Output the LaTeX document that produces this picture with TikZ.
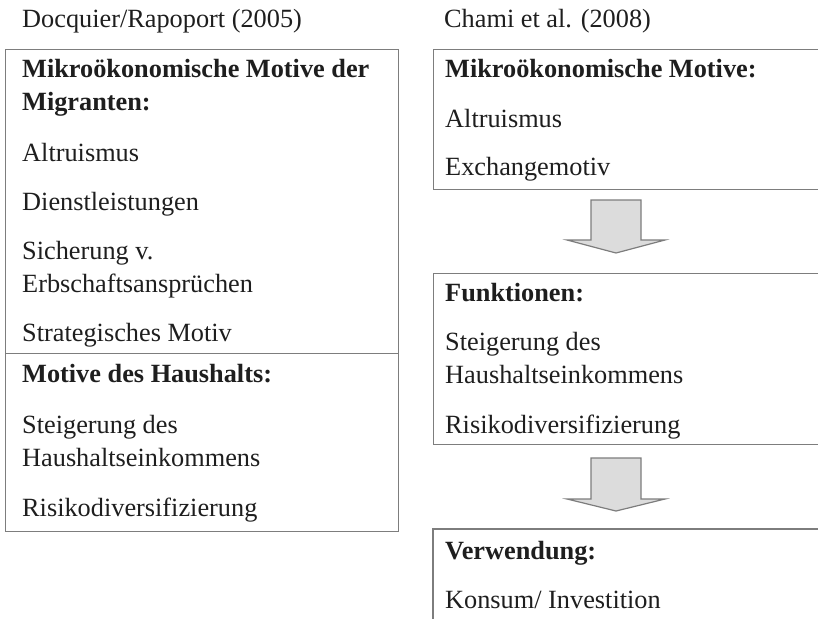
\documentclass[tikz,border=0pt]{standalone}
\usepackage{fontspec}
\setmainfont{Liberation Serif}
\usepackage{tikz}
\definecolor{framegray}{RGB}{125,125,125}
\definecolor{arrowfill}{RGB}{220,220,220}
\definecolor{inkgray}{RGB}{30,30,30}
\tikzset{
  cell/.style={draw=framegray, line width=1.4pt, inner sep=0pt, anchor=north west},
  txt/.style={anchor=base west, inner sep=0pt, text=inkgray, font=\fontsize{26.3}{33}\selectfont},
  headtxt/.style={txt, font=\fontsize{26.3}{33}\selectfont\bfseries},
  blockarrow/.style={draw=framegray, fill=arrowfill, line width=1.2pt, line join=miter}
}
\begin{document}
\begin{tikzpicture}[x=1pt,y=-1pt]
        \useasboundingbox (0,0) rectangle (818,618);
        \clip (0,0) rectangle (818,618);

        % Sources
        \node[txt] (srcleft) at (22,28) {Docquier/Rapoport (2005)};
        \node[txt] (srcright) at (444,28) {Chami et al. (2008)};

        % Left table
        \node[cell, minimum width=393pt, minimum height=304pt] (migbox) at (5,49) {};
        \node[cell, minimum width=393pt, minimum height=178pt] (hhbox) at (5,353) {};
        \node[headtxt] (migA) at (22,77) {Mikroökonomische Motive der};
        \node[headtxt] (migB) at (22,110) {Migranten:};
        \node[txt] (altleft) at (22,161) {Altruismus};
        \node[txt] (dienst) at (22,210) {Dienstleistungen};
        \node[txt] (erbA) at (22,259) {Sicherung v.};
        \node[txt] (erbB) at (22,292) {Erbschaftsansprüchen};
        \node[txt] (strat) at (22,341) {Strategisches Motiv};
        \node[headtxt] (hhhead) at (22,382) {Motive des Haushalts:};
        \node[txt] (steigleftA) at (22,433) {Steigerung des};
        \node[txt] (steigleftB) at (22,466) {Haushaltseinkommens};
        \node[txt] (riskleft) at (22,516) {Risikodiversifizierung};

        % Right column
        \node[cell, minimum width=400pt, minimum height=140pt] (motbox) at (433,49) {};
        \node[headtxt] (mothead) at (445,77) {Mikroökonomische Motive:};
        \node[txt] (altright) at (445,127) {Altruismus};
        \node[txt] (exch) at (445,175) {Exchangemotiv};

        \node[cell, minimum width=400pt, minimum height=171pt] (funkbox) at (433,273) {};
        \node[headtxt] (funkhead) at (445,301) {Funktionen:};
        \node[txt] (steigrightA) at (445,350) {Steigerung des};
        \node[txt] (steigrightB) at (445,383) {Haushaltseinkommens};
        \node[txt] (riskright) at (445,433) {Risikodiversifizierung};

        \draw[framegray, line width=1.4pt] (433,640) -- (433,529) -- (840,529);
        \node[headtxt] (verwhead) at (445,559) {Verwendung:};
        \node[txt] (konsum) at (445,608) {Konsum/ Investition};

        % Block arrows
        \draw[blockarrow] (591,200) -- (641,200) -- (641,240) -- (665,240) -- (616,253) -- (567,240) -- (591,240) -- cycle;
        \draw[blockarrow] (591,458) -- (641,458) -- (641,499) -- (665,499) -- (616,511) -- (567,499) -- (591,499) -- cycle;

    \end{tikzpicture}
\end{document}
